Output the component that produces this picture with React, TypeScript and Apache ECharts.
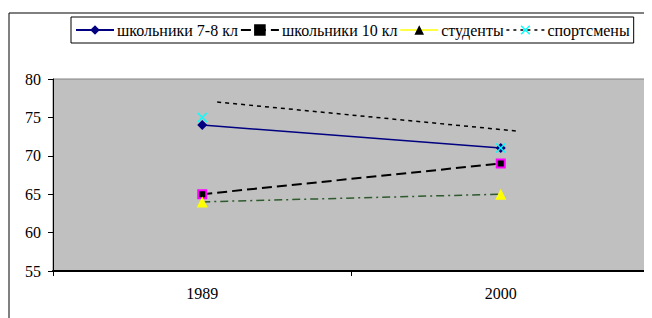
import React, { useEffect, useRef } from "react";
import * as echarts from "echarts";

const categories = ["1989", "2000"];
const seriesNames = ["школьники 7-8 кл", "школьники 10 кл", "студенты", "спортсмены"];
const school78 = [74, 71];
const school10 = [65, 69];
const students = [64, 65];
const sportsmen = [75, 71];
// dashed line of "спортсмены" as drawn in the reference (slightly offset)
const sportsmenLine: [number, number][] = [[0.55, 77], [1.56, 73.2]];
const yTicks = { min: 55, max: 80, interval: 5 };

const X_SYMBOL =
  "path://M0,1 L1,0 L5,4 L9,0 L10,1 L6,5 L10,9 L9,10 L5,6 L1,10 L0,9 L4,5 Z";

export default function App() {
  const ref = useRef<HTMLDivElement>(null);
  useEffect(() => {
    if (!ref.current) return;
    const chart = echarts.init(ref.current, undefined, { renderer: "svg" });
    const font = "Liberation Serif";
    chart.setOption({
      animation: false,
      textStyle: { fontFamily: font },
      graphic: [
        {
          type: "rect",
          shape: { x: 1, y: 5, width: 641, height: 400 },
          style: { fill: "none", stroke: "#000", lineWidth: 1 },
          z: -10,
          silent: true,
        },
      ],
      legend: {
        left: 63,
        top: 9,
        padding: [5, 4, 5, 4],
        borderColor: "#000",
        borderWidth: 1,
        itemGap: 2,
        itemWidth: 38,
        itemHeight: 12,
        textStyle: { fontFamily: font, fontSize: 16, color: "#000", padding: [0, 0, 0, -2] },
        data: [
          { name: seriesNames[0] },
          { name: seriesNames[1], itemStyle: { color: "#000", borderColor: "#000" } },
          { name: seriesNames[2], lineStyle: { color: "#FFFF00", type: "solid", width: 1.5 }, itemStyle: { color: "#000" } },
          { name: seriesNames[3], lineStyle: { color: "#000", type: [3, 4], width: 1.5, opacity: 1 }, itemStyle: { color: "#00FFFF" } },
        ],
      },
      grid: {
        left: 45,
        top: 71,
        right: 2,
        bottom: 47,
        show: true,
        backgroundColor: "#C0C0C0",
        borderColor: "#808080",
        borderWidth: 1,
      },
      xAxis: [
        {
          type: "category",
          data: categories,
          boundaryGap: true,
          axisLine: { lineStyle: { color: "#000", width: 2 } },
          axisTick: { show: true, length: 5, lineStyle: { color: "#000" } },
          axisLabel: { fontFamily: font, fontSize: 16, color: "#000", margin: 14 },
        },
        { type: "value", min: 0, max: 2, show: false },
      ],
      yAxis: {
        type: "value",
        min: yTicks.min,
        max: yTicks.max,
        interval: yTicks.interval,
        splitLine: { show: false },
        axisLine: { show: true, lineStyle: { color: "#000", width: 1 } },
        axisTick: { show: true, length: 5, lineStyle: { color: "#000" } },
        axisLabel: { fontFamily: font, fontSize: 16, color: "#000", margin: 12 },
      },
      series: [
        {
          name: seriesNames[1],
          type: "line",
          data: school10,
          symbol: "rect",
          symbolSize: 8,
          itemStyle: { color: "#000", borderColor: "#FF00FF", borderWidth: 2 },
          lineStyle: { color: "#000", width: 2, type: [10, 5] },
          z: 2,
        },
        {
          name: seriesNames[2],
          type: "line",
          data: students,
          symbol: "triangle",
          symbolSize: 11,
          itemStyle: { color: "#FFFF00", borderWidth: 0 },
          lineStyle: { color: "#2E5A2E", width: 1.5, type: [8, 4, 2, 4] },
          z: 2,
        },
        {
          name: seriesNames[0],
          type: "line",
          data: school78,
          symbol: "diamond",
          symbolSize: 10,
          itemStyle: { color: "#000080" },
          lineStyle: { color: "#000080", width: 1.5 },
          z: 3,
        },
        {
          name: seriesNames[3],
          type: "line",
          data: sportsmen,
          symbol: X_SYMBOL,
          symbolSize: 10,
          itemStyle: { color: "#00FFFF" },
          lineStyle: { opacity: 0 },
          z: 4,
        },
        {
          name: "спортсмены-линия",
          type: "line",
          xAxisIndex: 1,
          data: sportsmenLine,
          symbol: "none",
          lineStyle: { color: "#000", width: 1.5, type: [4, 4] },
          z: 2,
        },
      ],
    });
    return () => chart.dispose();
  }, []);
  return <div ref={ref} style={{ width: 644, height: 310 }} />;
}
